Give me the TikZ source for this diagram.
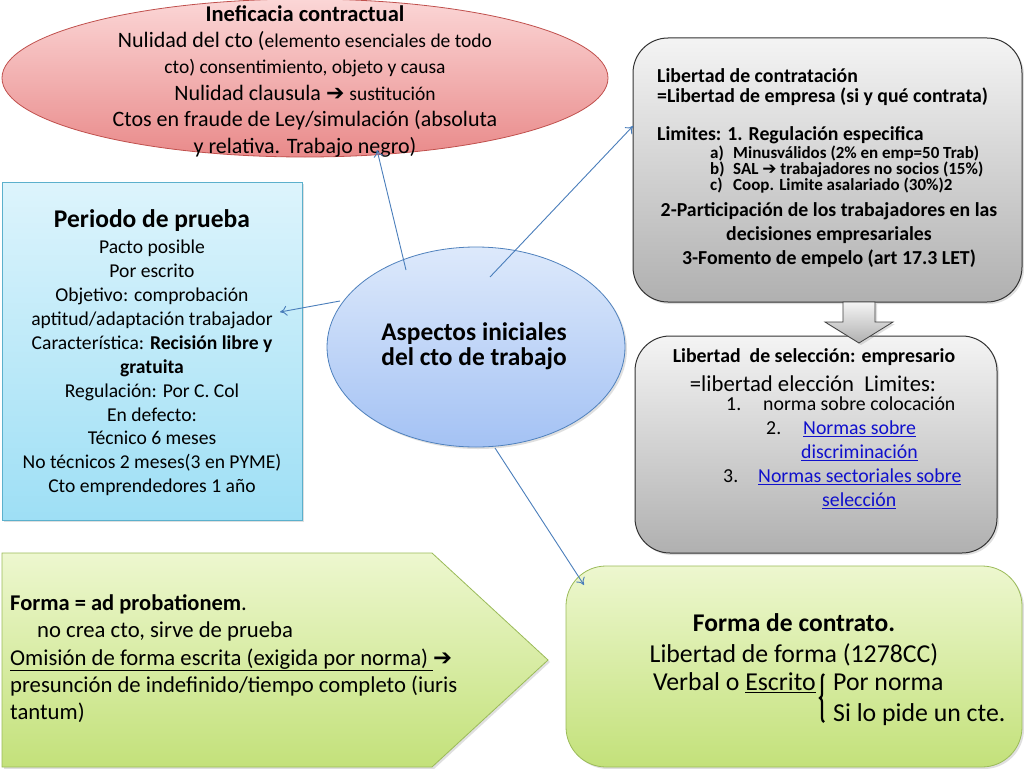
\documentclass[tikz,border=0pt]{standalone}
\usepackage{fontspec}
\setmainfont{Carlito}
\newfontfamily\djv{DejaVu Sans}
\usetikzlibrary{arrows.meta,shapes.geometric,shadows,decorations.pathreplacing}
\newcommand\myfs[2]{\fontsize{#1}{#2}\selectfont}
\newcommand\harr{{\djv\bfseries ➔}}
\definecolor{redbd}{HTML}{C0504D}
\definecolor{redtop}{HTML}{FBD6D6}
\definecolor{redbot}{HTML}{E98A8A}
\definecolor{cyanbd}{HTML}{5BB0CC}
\definecolor{cyantop}{HTML}{DDF4FC}
\definecolor{cyanbot}{HTML}{9EDFF5}
\definecolor{bluebd}{HTML}{4F81BD}
\definecolor{bluetop}{HTML}{DDE9FB}
\definecolor{bluebot}{HTML}{A4C2F4}
\definecolor{graytop}{HTML}{F4F4F4}
\definecolor{graybot}{HTML}{B0B0B0}
\definecolor{greenbd}{HTML}{9BBB59}
\definecolor{greentop}{HTML}{EDF7CF}
\definecolor{greenbot}{HTML}{C3E17A}
\definecolor{linkc}{HTML}{1010CC}
\definecolor{conn}{HTML}{4A7EBB}
\tikzset{
  shad/.style={drop shadow={opacity=0.25,shadow xshift=2pt,shadow yshift=-2pt}},
  redell/.style={ellipse,draw=redbd,line width=0.8pt,top color=redtop,bottom color=redbot,inner sep=0},
  bluell/.style={ellipse,draw=bluebd,line width=0.8pt,top color=bluetop,bottom color=bluebot,inner sep=0,shad},
  cyanbox/.style={rectangle,draw=cyanbd,line width=0.8pt,top color=cyantop,bottom color=cyanbot,inner sep=0,shad},
  graybox/.style={rectangle,rounded corners=35pt,draw=black!80,line width=1pt,top color=graytop,bottom color=graybot,inner sep=0,shad},
  greenbox/.style={rectangle,rounded corners=40pt,draw=greenbd,line width=0.8pt,top color=greentop,bottom color=greenbot,inner sep=0,shad},
  txt/.style={inner sep=0,align=center},
  ltxt/.style={inner sep=0,anchor=mid west},
  link/.style={text=linkc},
  conline/.style={draw=conn,line width=0.9pt,-{To[length=7pt,width=10pt]}}
}
\begin{document}
\begin{tikzpicture}[x=1pt,y=-1pt]
\useasboundingbox (0,0) rectangle (1024,768);
\fill[white] (0,0) rectangle (1024,768);

% red ellipse
\node[redell,minimum width=606,minimum height=158] (inef) at (305,78) {};
\node[txt,font=\myfs{22}{26.4}] (ineft) at (305,81) {{\myfs{22.5}{26.4}\bfseries Ineficacia contractual}\\
Nulidad del cto ({\myfs{19.5}{26.4}elemento esenciales de todo}\\
{\myfs{19.5}{26.4}cto) consentimiento, objeto y causa}\\
Nulidad clausula \harr{} {\myfs{19.5}{26.4}sustitución}\\
Ctos en fraude de Ley/simulación (absoluta\\
y relativa. Trabajo negro)};

% left cyan box
\node[cyanbox,minimum width=300,minimum height=338] (prueba) at (152,351) {};
\node[txt,font=\myfs{25.5}{28}\bfseries] (pruebat) at (152,221) {Periodo de prueba};
\node[txt,font=\myfs{19.6}{23.9}] (pruebab) at (152,368) {Pacto posible\\
Por escrito\\
Objetivo: comprobación\\
aptitud/adaptación trabajador\\
Característica: \textbf{Recisión libre y}\\
\textbf{gratuita}\\
Regulación: Por C. Col\\
En defecto:\\
Técnico 6 meses\\
No técnicos 2 meses(3 en PYME)\\
Cto emprendedores 1 año};

% top right gray box
\node[graybox,minimum width=389,minimum height=264] (contr) at (827.5,170) {};
\node[ltxt,font=\myfs{19.8}{20}\bfseries] (tr1) at (657,80) {Libertad de contratación};
\node[ltxt,font=\myfs{19.8}{20}\bfseries] (tr2) at (657,100) {=Libertad de empresa (si y qué contrata)};
\node[ltxt,font=\myfs{19.8}{20}\bfseries] (tr3) at (657,138) {Limites: 1. Regulación especifica};
\node[ltxt,font=\myfs{17}{16}\bfseries] (tra) at (710,156) {a)};
\node[ltxt,font=\myfs{17}{16}\bfseries] (trat) at (733,156) {Minusválidos (2\% en emp=50 Trab)};
\node[ltxt,font=\myfs{17}{16}\bfseries] (trb) at (710,172) {b)};
\node[ltxt,font=\myfs{17}{16}\bfseries] (trbt) at (733,172) {SAL \harr{} trabajadores no socios (15\%)};
\node[ltxt,font=\myfs{17}{16}\bfseries] (trc) at (710,188) {c)};
\node[ltxt,font=\myfs{17}{16}\bfseries] (trct) at (733,188) {Coop. Limite asalariado (30\%)2};
\node[txt,font=\myfs{19.8}{24}\bfseries] (trd) at (829,235) {2-Participación de los trabajadores en las\\
decisiones empresariales\\
3-Fomento de empelo (art 17.3 LET)};

% middle right gray box
\node[graybox,minimum width=362,minimum height=217] (selec) at (816,444.5) {};
\node[txt,font=\myfs{19.8}{20}\bfseries] (ms1) at (814,357) {Libertad\ \ de selección: empresario};
\node[txt,font=\myfs{22.7}{24}] (ms2) at (813,384) {=libertad elección\ \ Limites:};
\node[ltxt,font=\myfs{19.8}{24}] (m1) at (726,408) {1.};
\node[ltxt,font=\myfs{19.8}{24}] (m1t) at (763,408) {norma sobre colocación};
\node[ltxt,font=\myfs{19.8}{24}] (m2) at (766,432) {2.};
\node[ltxt,link,font=\myfs{19.8}{24}] (m2t) at (803,432) {\underline{Normas sobre}};
\node[ltxt,link,font=\myfs{19.8}{24}] (m2u) at (801,456) {\underline{discriminación}};
\node[ltxt,font=\myfs{19.8}{24}] (m3) at (723,480) {3.};
\node[ltxt,link,font=\myfs{19.8}{24}] (m3t) at (758,480) {\underline{Normas sectoriales sobre}};
\node[ltxt,link,font=\myfs{19.8}{24}] (m3u) at (822,504) {\underline{selección}};

% block arrow
\path[draw=black!75,line width=0.8pt,top color=graytop,bottom color=graybot,shad]
  (843,302) -- (875,302) -- (875,322) -- (893,322) -- (859,343) -- (825,322) -- (843,322) -- cycle;

% central ellipse
\node[bluell,minimum width=298,minimum height=200] (asp) at (476,347) {};
\node[txt,font=\myfs{25.4}{25}\bfseries] (aspt) at (474,346) {Aspectos iniciales\\ del cto de trabajo};

% green pentagon
\path[draw=greenbd,line width=0.8pt,top color=greentop,bottom color=greenbot,shad]
  (2,553) -- (432,553) -- (548,660) -- (432,767) -- (2,767) -- cycle;
\node[ltxt,font=\myfs{22.7}{27}] (p1) at (10,608) {{\myfs{22.5}{27}\bfseries Forma = ad probationem}.};
\node[ltxt,font=\myfs{22.7}{27}] (p2) at (37,635) {no crea cto, sirve de prueba};
\node[ltxt,font=\myfs{22.7}{27}] (p3) at (10,663) {\underline{Omisión de forma escrita (exigida por norma) }\harr};
\node[ltxt,font=\myfs{22.7}{27}] (p4) at (10,690) {presunción de indefinido/tiempo completo (iuris};
\node[ltxt,font=\myfs{22.7}{27}] (p5) at (10,717) {tantum)};

% bottom right green box
\node[greenbox,minimum width=456,minimum height=201] (forma) at (794,666.5) {};
\node[txt,font=\myfs{25.5}{31}\bfseries] (f1) at (794,623) {Forma de contrato.};
\node[txt,font=\myfs{25.8}{31}] (f2) at (794,655) {Libertad de forma (1278CC)};
\node[inner sep=0,anchor=mid east,font=\myfs{25.8}{31}] (f3) at (816,688) {Verbal o \underline{Escrito}};
\node[ltxt,font=\myfs{25.8}{31}] (f4) at (833,688) {Por norma};
\node[ltxt,font=\myfs{25.8}{31}] (f5) at (833,719) {Si lo pide un cte.};
\coordinate (brb) at (824,722);
\coordinate (brt) at (824,674);
\draw[line width=2.2pt,decorate,decoration={brace,amplitude=4pt}] (brb) -- (brt);

% connectors
\coordinate (s1) at (406,270);
\coordinate (s2) at (490,277);
\coordinate (s3) at (340,301);
\coordinate (s4) at (495,448);
\coordinate (e1) at (377,150);
\coordinate (e2) at (633,126);
\coordinate (e3) at (280,312);
\coordinate (e4) at (584,585);
\draw[conline] (s1) -- (e1);
\draw[conline] (s2) -- (e2);
\draw[conline] (s3) -- (e3);
\draw[conline] (s4) -- (e4);
\end{tikzpicture}
\end{document}
